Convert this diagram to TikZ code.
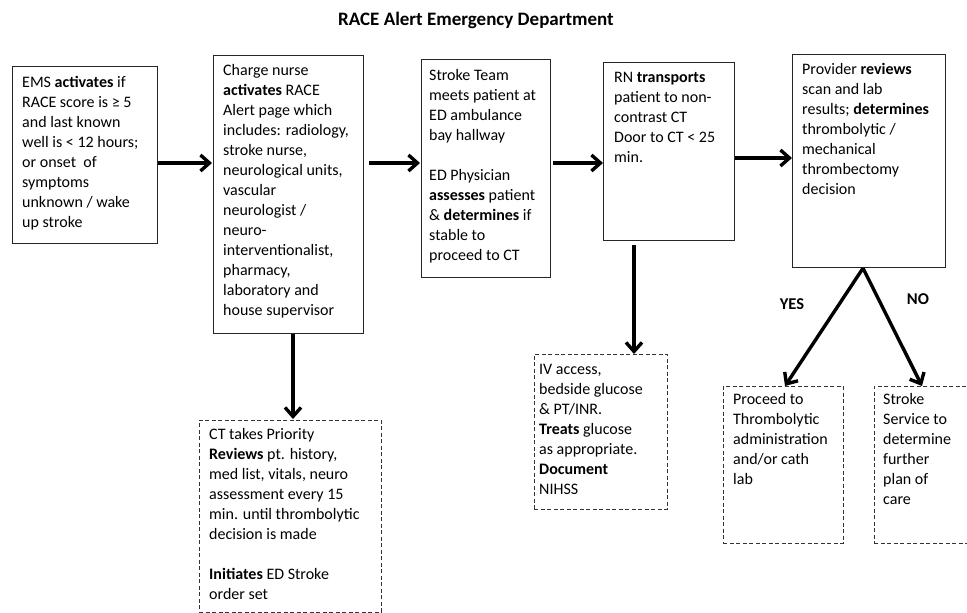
\documentclass[tikz,border=0pt]{standalone}
\usepackage{fontspec}
\setmainfont{Carlito}
\usetikzlibrary{arrows.meta,calc}
\begin{document}
\begin{tikzpicture}[x=1pt,y=-1pt,
  box/.style={draw=black!85, line width=1.2pt, anchor=north west, inner sep=0pt},
  dbox/.style={draw=black!80, line width=0.9pt, dash pattern=on 4pt off 2.5pt, anchor=north west, inner sep=0pt},
  txt/.style={anchor=north west, inner sep=0pt, align=left, font=\fontsize{16}{20}\selectfont},
  lbl/.style={font=\bfseries\fontsize{16.5}{20}\selectfont, anchor=base},
  arr/.style={line width=3.4pt, -{Straight Barb[length=9pt,width=16pt]}},
]
\useasboundingbox (0,0) rectangle (967,613);
\clip (0,0) rectangle (967,613);

\node[font=\bfseries\fontsize{19}{23}\selectfont, anchor=base] (title) at (476,25) {RACE Alert Emergency Department};

% boxes
\node[box, minimum width=145pt, minimum height=177pt] (b1) at (12,66) {};
\node[box, minimum width=150pt, minimum height=278pt] (b2) at (213,55) {};
\node[box, minimum width=129pt, minimum height=218pt] (b3) at (421,59) {};
\node[box, minimum width=131pt, minimum height=178pt] (b4) at (603,62) {};
\node[box, minimum width=153pt, minimum height=213pt] (b5) at (792,54) {};
\node[dbox, minimum width=182pt, minimum height=192pt] (b6) at (199,420) {};
\node[dbox, minimum width=133pt, minimum height=155pt] (b7) at (534,354) {};
\node[dbox, minimum width=120pt, minimum height=157pt] (b8) at (723,386) {};
\node[dbox, minimum width=130pt, minimum height=157pt] (b9) at (874,386) {};

% texts
\node[txt] (t1) at ($(b1.north west)+(10,10)$) {EMS \textbf{activates} if\\ RACE score is ≥ 5\\ and last known\\ well is < 12 hours;\\ or onset~ of\\ symptoms\\ unknown / wake\\ up stroke};
\node[txt] (t2) at ($(b2.north west)+(10,9)$) {Charge nurse\\ \textbf{activates} RACE\\ Alert page which\\ includes: radiology,\\ stroke nurse,\\ neurological units,\\ vascular\\ neurologist /\\ neuro-\\ interventionalist,\\ pharmacy,\\ laboratory and\\ house supervisor};
\node[txt] (t3) at ($(b3.north west)+(8,10)$) {Stroke Team\\ meets patient at\\ ED ambulance\\ bay hallway\\[20pt] ED Physician\\ \textbf{assesses} patient\\ \& \textbf{determines} if\\ stable to\\ proceed to CT};
\node[txt] (t4) at ($(b4.north west)+(11,10)$) {RN \textbf{transports}\\ patient to non-\\ contrast CT\\ Door to CT < 25\\ min.};
\node[txt] (t5) at ($(b5.north west)+(10,9)$) {Provider \textbf{reviews}\\ scan and lab\\ results; \textbf{determines}\\ thrombolytic /\\ mechanical\\ thrombectomy\\ decision};
\node[txt] (t6) at ($(b6.north west)+(10,8)$) {CT takes Priority\\ \textbf{Reviews} pt. history,\\ med list, vitals, neuro\\ assessment every 15\\ min. until thrombolytic\\ decision is made\\[20pt] \textbf{Initiates} ED Stroke\\ order set};
\node[txt] (t7) at ($(b7.north west)+(5,10)$) {IV access,\\ bedside glucose\\ \& PT/INR.\\ \textbf{Treats} glucose\\ as appropriate.\\ \textbf{Document}\\ NIHSS};
\node[txt] (t8) at ($(b8.north west)+(10,7)$) {Proceed to\\ Thrombolytic\\ administration\\ and/or cath\\ lab};
\node[txt] (t9) at ($(b9.north west)+(9,7)$) {Stroke\\ Service to\\ determine\\ further\\ plan of\\ care};

% connectors
\coordinate (ya) at (0,163);
\coordinate (yb) at (0,158);
\coordinate (xa) at (293,0);
\coordinate (xb) at (634,0);
\coordinate (xapex) at (863,0);
\coordinate (xyes) at (785,0);
\coordinate (xno) at (922,0);
\draw[arr, shorten >=1pt] (b1.east |- ya) -- (b2.west |- ya);
\draw[arr, shorten <=5pt, shorten >=1pt] (b2.east |- ya) -- (b3.west |- ya);
\draw[arr, shorten <=2pt] (b3.east |- ya) -- (b4.west |- ya);
\draw[arr] (b4.east |- yb) -- (b5.west |- yb);
\draw[arr, shorten >=1pt] (b2.south -| xa) -- (b6.north -| xa);
\draw[arr, shorten <=4pt] (b4.south -| xb) -- (b7.north -| xb);
\draw[arr] (b5.south -| xapex) -- (b8.north -| xyes);
\draw[arr] (b5.south -| xapex) -- (b9.north -| xno);

\node[lbl] (yes) at (792,309) {YES};
\node[lbl] (no) at (918,304) {NO};
\end{tikzpicture}
\end{document}
